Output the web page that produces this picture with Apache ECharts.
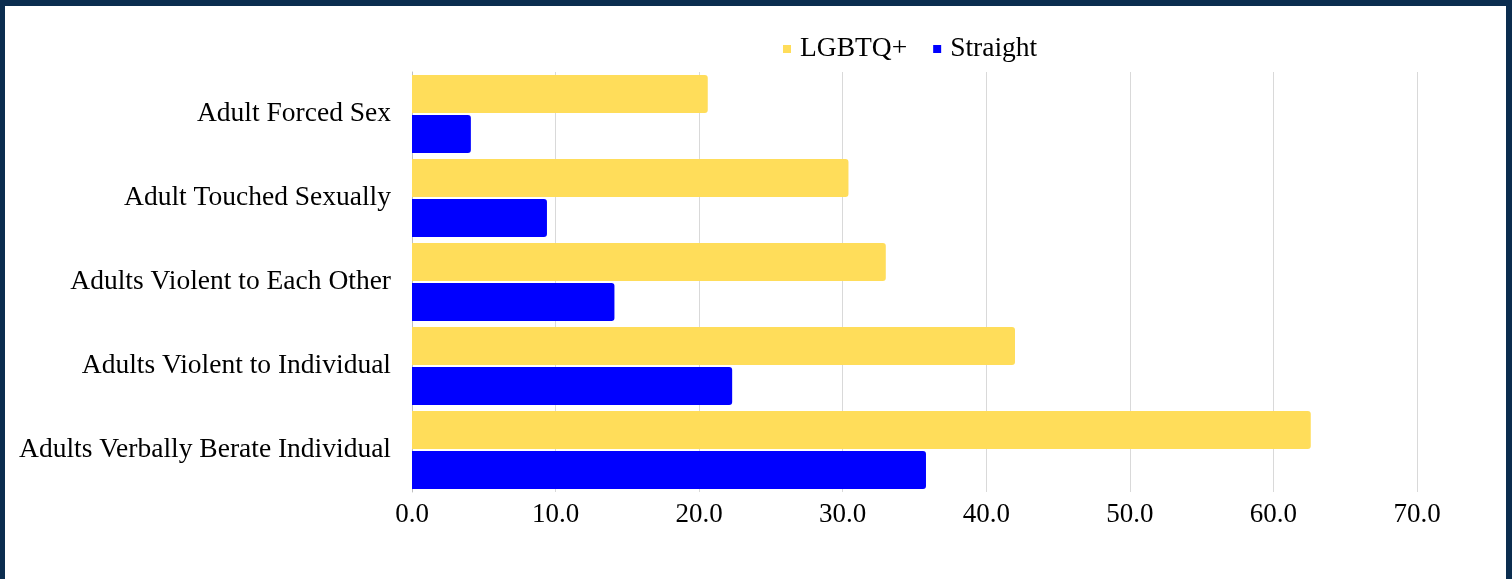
<!DOCTYPE html>
<html>
    <head>
        <meta charset="utf-8">
        <title>Adverse experiences</title>
        <script src="https://cdn.jsdelivr.net/npm/echarts@6/dist/echarts.min.js"></script>
        <style>
            body { margin: 0; background: #fff; }
            #main { position: absolute; left: 0; top: 0; width: 1512px; height: 579px; }
            #frame {
                position: absolute; left: 0; top: 0; width: 1512px; height: 579px;
                box-sizing: border-box; pointer-events: none;
                border-top: 6px solid #0b2d4f; border-left: 5px solid #0b2d4f;
                border-right: 6px solid #0b2d4f; border-bottom: 0;
            }
        </style>
    </head>
    <body>
        <div id="main"></div>
        <div id="frame"></div>
        <script type="text/javascript">
            var categories = [
                'Adult Forced Sex',
                'Adult Touched Sexually',
                'Adults Violent to Each Other',
                'Adults Violent to Individual',
                'Adults Verbally Berate Individual'
            ]
            var lgbtq = [20.6, 30.4, 33.0, 42.0, 62.6]
            var straight = [4.1, 9.4, 14.1, 22.3, 35.8]
            var xTicks = [0, 10, 20, 30, 40, 50, 60, 70]

            var font = '"Liberation Serif", "Times New Roman", serif'
            var myChart = echarts.init(document.querySelector('#main'))
            var option = {
                animation: false,
                textStyle: { fontFamily: font },
                legend: {
                    data: ['LGBTQ+', 'Straight'],
                    left: 778,
                    top: 30,
                    icon: 'rect',
                    itemWidth: 8,
                    itemHeight: 8,
                    itemGap: 26,
                    textStyle: { fontFamily: font, fontSize: 27.5, color: '#000', padding: [0, 0, 0, 4] }
                },
                grid: {
                    left: 412,
                    right: 95,
                    top: 72,
                    bottom: 87,
                    containLabel: false
                },
                xAxis: {
                    type: 'value',
                    min: xTicks[0],
                    max: xTicks[xTicks.length - 1],
                    interval: 10,
                    axisLine: { show: false },
                    axisTick: { show: false },
                    splitLine: { lineStyle: { color: '#d9d9d9', width: 1 } },
                    axisLabel: {
                        margin: 9,
                        color: '#000',
                        fontFamily: font,
                        fontSize: 27,
                        formatter: function (v) { return v.toFixed(1) }
                    }
                },
                yAxis: {
                    type: 'category',
                    inverse: true,
                    data: categories,
                    axisLine: { show: true, lineStyle: { color: '#bfbfbf', width: 1 } },
                    axisTick: { show: false },
                    axisLabel: {
                        margin: 21,
                        color: '#000',
                        fontFamily: font,
                        fontSize: 27.5
                    }
                },
                series: [
                    {
                        name: 'LGBTQ+',
                        type: 'bar',
                        data: lgbtq,
                        barGap: '5%',
                        barCategoryGap: '7%',
                        itemStyle: { color: '#ffdd5a', borderRadius: [0, 3, 3, 0] }
                    },
                    {
                        name: 'Straight',
                        type: 'bar',
                        data: straight,
                        barGap: '5%',
                        barCategoryGap: '7%',
                        itemStyle: { color: '#0000ff', borderRadius: [0, 3, 3, 0] }
                    }
                ]
            }
            myChart.setOption(option)
        </script>
    </body>
</html>
